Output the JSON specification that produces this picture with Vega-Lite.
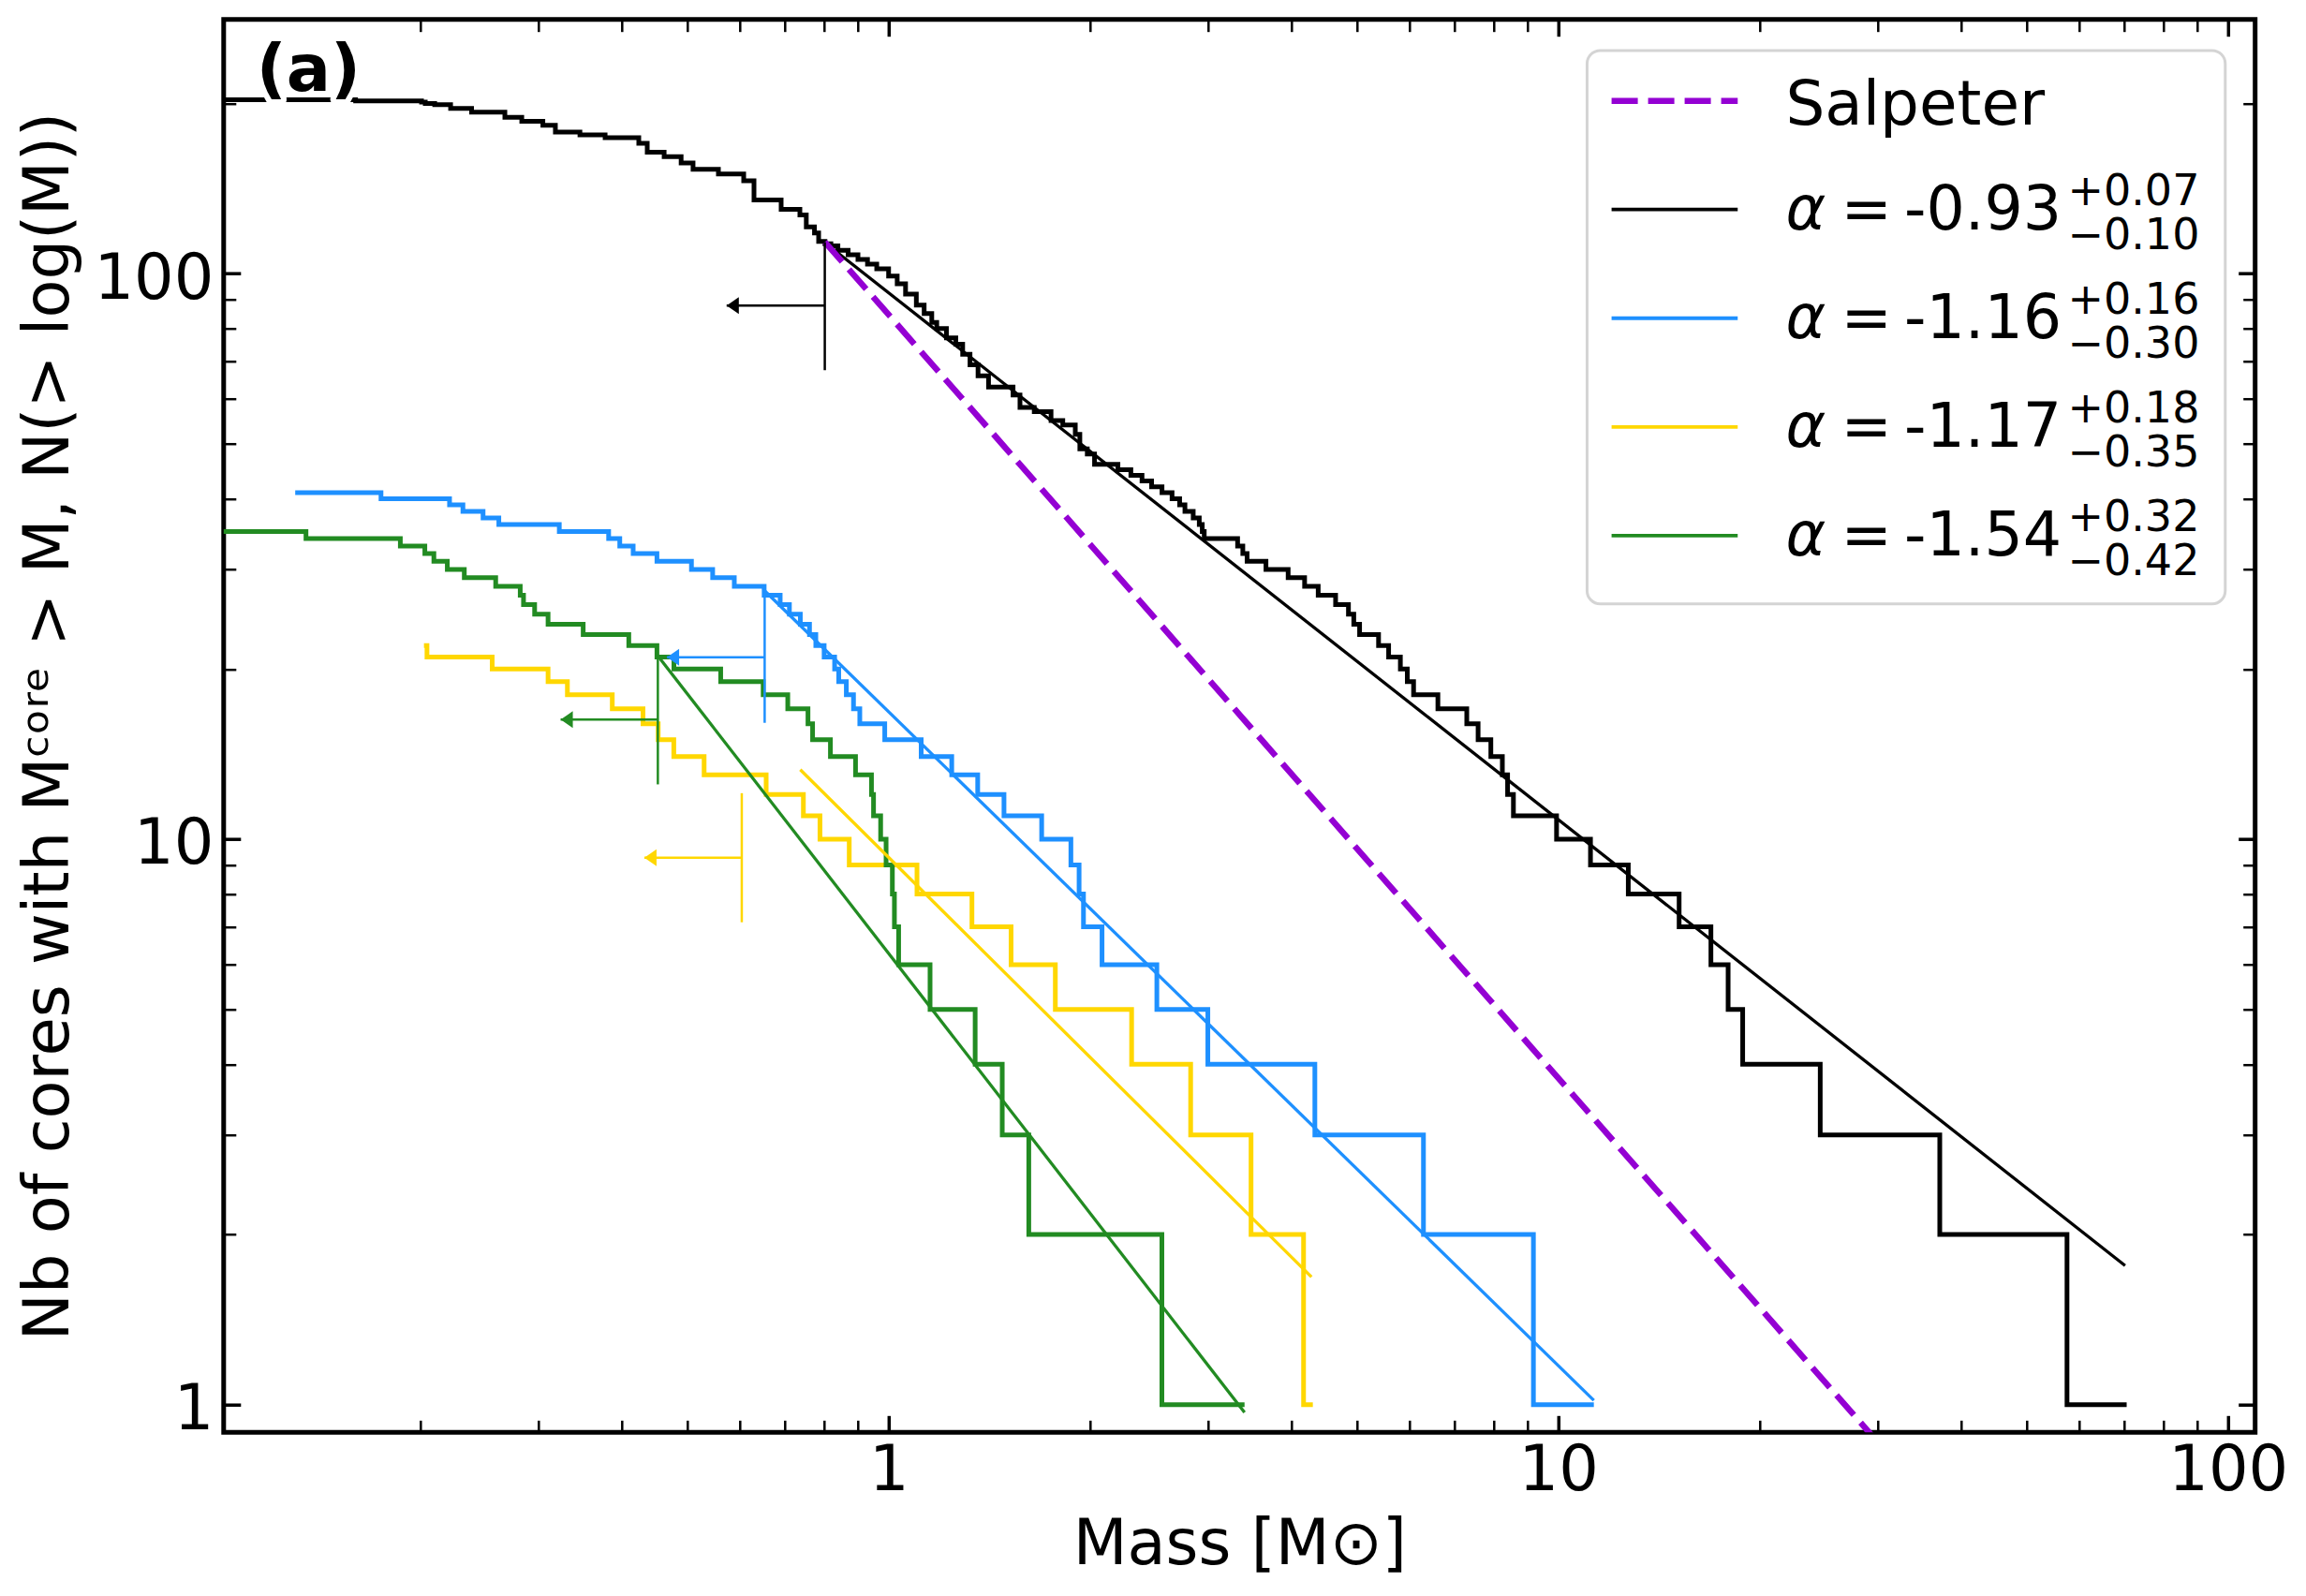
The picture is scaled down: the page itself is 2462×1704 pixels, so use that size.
{
  "$schema": "https://vega.github.io/schema/vega-lite/v6.json",
  "width": 2168.9,
  "height": 1508.6,
  "autosize": {"type": "none"},
  "padding": {"left": 238.8, "top": 20.7, "right": 54.3, "bottom": 174.7},
  "background": "white",
  "config": {
    "font": "DejaVu Sans",
    "view": {"stroke": "black", "strokeWidth": 5, "fill": "white"},
    "axis": {"domain": false, "grid": false, "tickColor": "black", "labelColor": "black", "titleColor": "black", "labelFont": "DejaVu Sans", "titleFont": "DejaVu Sans", "titleFontWeight": "normal", "labelFlush": false, "labelOverlap": false, "labelBound": false, "tickCap": "butt"}
  },
  "datasets": {
    "steps": [
      {"s":"black","m":0.09,"n":203},{"s":"black","m":0.16,"n":202},{"s":"black","m":0.2007,"n":201},{"s":"black","m":0.2033,"n":200},{"s":"black","m":0.21,"n":199},{"s":"black","m":0.2218,"n":196},{"s":"black","m":0.2384,"n":193},{"s":"black","m":0.2673,"n":189},{"s":"black","m":0.2833,"n":186},{"s":"black","m":0.3046,"n":183},{"s":"black","m":0.318,"n":178},{"s":"black","m":0.346,"n":176},{"s":"black","m":0.3773,"n":174},{"s":"black","m":0.4236,"n":170},{"s":"black","m":0.4361,"n":164},{"s":"black","m":0.4622,"n":161},{"s":"black","m":0.49,"n":157},{"s":"black","m":0.5105,"n":153},{"s":"black","m":0.557,"n":150},{"s":"black","m":0.6076,"n":146},{"s":"black","m":0.6295,"n":135},{"s":"black","m":0.6911,"n":130},{"s":"black","m":0.7371,"n":127},{"s":"black","m":0.7535,"n":121},{"s":"black","m":0.775,"n":118},{"s":"black","m":0.7862,"n":114},{"s":"black","m":0.8035,"n":113},{"s":"black","m":0.82,"n":112},{"s":"black","m":0.84,"n":110},{"s":"black","m":0.87,"n":108},{"s":"black","m":0.9,"n":106},{"s":"black","m":0.93,"n":104},{"s":"black","m":0.96,"n":102},{"s":"black","m":1.0,"n":99},{"s":"black","m":1.03,"n":96},{"s":"black","m":1.06,"n":92},{"s":"black","m":1.1,"n":88},{"s":"black","m":1.13,"n":85},{"s":"black","m":1.16,"n":82},{"s":"black","m":1.18,"n":80},{"s":"black","m":1.22,"n":77},{"s":"black","m":1.26,"n":75},{"s":"black","m":1.29,"n":72},{"s":"black","m":1.323,"n":69},{"s":"black","m":1.36,"n":66},{"s":"black","m":1.41,"n":63},{"s":"black","m":1.534,"n":61},{"s":"black","m":1.571,"n":58},{"s":"black","m":1.65,"n":57},{"s":"black","m":1.748,"n":55},{"s":"black","m":1.82,"n":54},{"s":"black","m":1.9,"n":52},{"s":"black","m":1.93,"n":49},{"s":"black","m":1.98,"n":48},{"s":"black","m":2.03,"n":46},{"s":"black","m":2.2,"n":45},{"s":"black","m":2.3,"n":44},{"s":"black","m":2.39,"n":43},{"s":"black","m":2.47,"n":42},{"s":"black","m":2.56,"n":41},{"s":"black","m":2.65,"n":40},{"s":"black","m":2.72,"n":39},{"s":"black","m":2.77,"n":38},{"s":"black","m":2.85,"n":37},{"s":"black","m":2.91,"n":36},{"s":"black","m":2.94,"n":35},{"s":"black","m":2.96,"n":34},{"s":"black","m":3.32,"n":33},{"s":"black","m":3.38,"n":32},{"s":"black","m":3.43,"n":31},{"s":"black","m":3.66,"n":30},{"s":"black","m":3.95,"n":29},{"s":"black","m":4.18,"n":28},{"s":"black","m":4.38,"n":27},{"s":"black","m":4.65,"n":26},{"s":"black","m":4.86,"n":25},{"s":"black","m":4.95,"n":24},{"s":"black","m":5.05,"n":23},{"s":"black","m":5.39,"n":22},{"s":"black","m":5.58,"n":21},{"s":"black","m":5.81,"n":20},{"s":"black","m":5.95,"n":19},{"s":"black","m":6.08,"n":18},{"s":"black","m":6.61,"n":17},{"s":"black","m":7.3,"n":16},{"s":"black","m":7.59,"n":15},{"s":"black","m":7.93,"n":14},{"s":"black","m":8.25,"n":13},{"s":"black","m":8.4,"n":12},{"s":"black","m":8.57,"n":11},{"s":"black","m":9.94,"n":10},{"s":"black","m":11.17,"n":9},{"s":"black","m":12.72,"n":8},{"s":"black","m":15.15,"n":7},{"s":"black","m":16.9,"n":6},{"s":"black","m":17.93,"n":5},{"s":"black","m":18.85,"n":4},{"s":"black","m":24.61,"n":3},{"s":"black","m":37.12,"n":2},{"s":"black","m":57.49,"n":1},{"s":"black","m":70.58,"n":1},
      {"s":"blue","m":0.13,"n":41},{"s":"blue","m":0.1746,"n":40},{"s":"blue","m":0.221,"n":39},{"s":"blue","m":0.2314,"n":38},{"s":"blue","m":0.248,"n":37},{"s":"blue","m":0.2618,"n":36},{"s":"blue","m":0.3223,"n":35},{"s":"blue","m":0.3819,"n":34},{"s":"blue","m":0.3968,"n":33},{"s":"blue","m":0.4155,"n":32},{"s":"blue","m":0.4509,"n":31},{"s":"blue","m":0.5077,"n":30},{"s":"blue","m":0.5461,"n":29},{"s":"blue","m":0.5883,"n":28},{"s":"blue","m":0.6519,"n":27},{"s":"blue","m":0.6888,"n":26},{"s":"blue","m":0.711,"n":25},{"s":"blue","m":0.7382,"n":24},{"s":"blue","m":0.7619,"n":23},{"s":"blue","m":0.7786,"n":22},{"s":"blue","m":0.8012,"n":21},{"s":"blue","m":0.8306,"n":20},{"s":"blue","m":0.8424,"n":19},{"s":"blue","m":0.8647,"n":18},{"s":"blue","m":0.8863,"n":17},{"s":"blue","m":0.9057,"n":16},{"s":"blue","m":0.9868,"n":15},{"s":"blue","m":1.1185,"n":14},{"s":"blue","m":1.2424,"n":13},{"s":"blue","m":1.3584,"n":12},{"s":"blue","m":1.4869,"n":11},{"s":"blue","m":1.6926,"n":10},{"s":"blue","m":1.8715,"n":9},{"s":"blue","m":1.925,"n":8},{"s":"blue","m":1.9543,"n":7},{"s":"blue","m":2.083,"n":6},{"s":"blue","m":2.515,"n":5},{"s":"blue","m":2.997,"n":4},{"s":"blue","m":4.33,"n":3},{"s":"blue","m":6.29,"n":2},{"s":"blue","m":9.18,"n":1},{"s":"blue","m":11.3,"n":1},
      {"s":"gold","m":0.2024,"n":22},{"s":"gold","m":0.2045,"n":21},{"s":"gold","m":0.2559,"n":20},{"s":"gold","m":0.3101,"n":19},{"s":"gold","m":0.3314,"n":18},{"s":"gold","m":0.3867,"n":17},{"s":"gold","m":0.4298,"n":16},{"s":"gold","m":0.4528,"n":15},{"s":"gold","m":0.4778,"n":14},{"s":"gold","m":0.5303,"n":13},{"s":"gold","m":0.6564,"n":12},{"s":"gold","m":0.746,"n":11},{"s":"gold","m":0.7898,"n":10},{"s":"gold","m":0.8734,"n":9},{"s":"gold","m":1.1025,"n":8},{"s":"gold","m":1.3318,"n":7},{"s":"gold","m":1.5236,"n":6},{"s":"gold","m":1.774,"n":5},{"s":"gold","m":2.306,"n":4},{"s":"gold","m":2.825,"n":3},{"s":"gold","m":3.477,"n":2},{"s":"gold","m":4.165,"n":1},{"s":"gold","m":4.3,"n":1},
      {"s":"green","m":0.09,"n":35},{"s":"green","m":0.1349,"n":34},{"s":"green","m":0.1866,"n":33},{"s":"green","m":0.203,"n":32},{"s":"green","m":0.2094,"n":31},{"s":"green","m":0.2193,"n":30},{"s":"green","m":0.2325,"n":29},{"s":"green","m":0.259,"n":28},{"s":"green","m":0.2818,"n":27},{"s":"green","m":0.285,"n":26},{"s":"green","m":0.2961,"n":25},{"s":"green","m":0.3101,"n":24},{"s":"green","m":0.3499,"n":23},{"s":"green","m":0.4093,"n":22},{"s":"green","m":0.4509,"n":21},{"s":"green","m":0.478,"n":20},{"s":"green","m":0.5614,"n":19},{"s":"green","m":0.6497,"n":18},{"s":"green","m":0.707,"n":17},{"s":"green","m":0.7579,"n":16},{"s":"green","m":0.77,"n":15},{"s":"green","m":0.8187,"n":14},{"s":"green","m":0.8925,"n":13},{"s":"green","m":0.9428,"n":12},{"s":"green","m":0.9495,"n":11},{"s":"green","m":0.973,"n":10},{"s":"green","m":0.9914,"n":9},{"s":"green","m":1.013,"n":8},{"s":"green","m":1.0202,"n":7},{"s":"green","m":1.0351,"n":6},{"s":"green","m":1.1532,"n":5},{"s":"green","m":1.3466,"n":4},{"s":"green","m":1.478,"n":3},{"s":"green","m":1.6193,"n":2},{"s":"green","m":2.559,"n":1},{"s":"green","m":3.4,"n":1}
    ],
    "fits": [
      {"s":"black","m":0.803,"n":113.5},{"s":"black","m":70.2,"n":1.762},
      {"s":"blue","m":0.653,"n":27.5},{"s":"blue","m":11.3,"n":1.018},
      {"s":"gold","m":0.738,"n":13.27},{"s":"gold","m":4.28,"n":1.682},
      {"s":"green","m":0.4523,"n":21.1},{"s":"green","m":3.4,"n":0.969},
      {"s":"salpeter","m":0.803,"n":113.8},{"s":"salpeter","m":30,"n":0.858}
    ],
    "limits": [
      {"s":"black","m":0.803,"top":113.7,"bot":67.5,"ya":87.8,"tip":0.573},
      {"s":"blue","m":0.653,"top":27.05,"bot":16.06,"ya":20.97,"tip":0.4667},
      {"s":"gold","m":0.6036,"top":12.06,"bot":7.13,"ya":9.27,"tip":0.4318},
      {"s":"green","m":0.4523,"top":21.1,"bot":12.5,"ya":16.27,"tip":0.3238}
    ],
    "legend": [
      {"s":"salpeter","lead":"Salpeter","main":"","sup":"","sub":""},
      {"s":"black","lead":"α","main":"=\u2009-0.93","sup":"+0.07","sub":"−0.10"},
      {"s":"blue","lead":"α","main":"=\u2009-1.16","sup":"+0.16","sub":"−0.30"},
      {"s":"gold","lead":"α","main":"=\u2009-1.17","sup":"+0.18","sub":"−0.35"},
      {"s":"green","lead":"α","main":"=\u2009-1.54","sup":"+0.32","sub":"−0.42"}
    ]
  },
  "layer": [
    {
      "layer": [
        {
          "data": {"values": [{"k": 1}]},
          "mark": {"type": "rect", "fill": "white", "fillOpacity": 0.8, "stroke": "#d4d4d4", "strokeWidth": 3, "cornerRadius": 14},
          "encoding": {
            "x": {"datum": 11.04, "scale": {"type": "log", "domain": [0.10165, 109.78], "nice": false}, "axis": null},
            "x2": {"datum": 99.06},
            "y": {"datum": 248.1, "scale": {"type": "log", "domain": [0.8934, 281.6], "nice": false}, "axis": null},
            "y2": {"datum": 26.07}
          }
        },
        {
          "data": {"name": "steps"},
          "mark": {"type": "line", "interpolate": "step-after", "strokeWidth": 5, "clip": true},
          "encoding": {
            "x": {"field": "m", "type": "quantitative", "scale": {"type": "log", "domain": [0.10165, 109.78], "nice": false},
                  "axis": {"orient": "bottom", "values": [1, 10, 100], "format": "d", "ticks": false, "labelFontSize": 67, "labelPadding": 8.5, "title": "Mass [M⊙]", "titleFontSize": 67, "titleBaseline": "alphabetic", "titleX": 1084.5, "titleY": 140.7}},
            "y": {"field": "n", "type": "quantitative", "scale": {"type": "log", "domain": [0.8934, 281.6], "nice": false},
                  "axis": {"orient": "left", "values": [1, 10, 100], "format": "d", "ticks": false, "labelFontSize": 67, "labelPadding": 11, "labelOffset": 6, "title": "Nb of cores with Mᶜᵒʳᵉ > M, N(> log(M))", "titleFontSize": 67, "titleAngle": 270, "titleAlign": "center", "titleBaseline": "alphabetic", "titleX": -166, "titleY": 754.3}},
            "color": {"field": "s", "type": "nominal", "scale": {"domain": ["black", "blue", "gold", "green", "salpeter"], "range": ["#000000", "#1E90FF", "#FFD700", "#228B22", "#9400D3"]}, "legend": null}
          }
        },
        {
          "data": {"name": "fits"},
          "transform": [{"filter": "datum.s !== 'salpeter'"}],
          "mark": {"type": "line", "strokeWidth": 3.3, "clip": true},
          "encoding": {
            "x": {"field": "m", "type": "quantitative", "scale": {"type": "log", "domain": [0.10165, 109.78], "nice": false},
                  "axis": {"orient": "bottom", "values": [1, 10, 100], "labels": false, "tickSize": -18, "tickWidth": 3.5, "title": null}},
            "y": {"field": "n", "type": "quantitative", "scale": {"type": "log", "domain": [0.8934, 281.6], "nice": false},
                  "axis": {"orient": "left", "values": [1, 10, 100], "labels": false, "tickSize": -18, "tickWidth": 3.5, "title": null}},
            "color": {"field": "s", "type": "nominal", "legend": null}
          }
        },
        {
          "data": {"name": "fits"},
          "transform": [{"filter": "datum.s === 'salpeter'"}],
          "mark": {"type": "line", "strokeWidth": 6.5, "strokeDash": [28, 11], "clip": true},
          "encoding": {
            "x": {"field": "m", "type": "quantitative", "scale": {"type": "log", "domain": [0.10165, 109.78], "nice": false},
                  "axis": {"orient": "bottom", "values": [0.2,0.3,0.4,0.5,0.6,0.7,0.8,0.9,2,3,4,5,6,7,8,9,20,30,40,50,60,70,80,90], "labels": false, "tickSize": -13, "tickWidth": 2.5, "title": null}},
            "y": {"field": "n", "type": "quantitative", "scale": {"type": "log", "domain": [0.8934, 281.6], "nice": false},
                  "axis": {"orient": "left", "values": [2,3,4,5,6,7,8,9,20,30,40,50,60,70,80,90,200], "labels": false, "tickSize": -13, "tickWidth": 2.5, "title": null}},
            "color": {"field": "s", "type": "nominal", "legend": null}
          }
        },
        {
          "data": {"name": "limits"},
          "mark": {"type": "rule", "strokeWidth": 2.5},
          "encoding": {
            "x": {"field": "m", "type": "quantitative", "scale": {"type": "log", "domain": [0.10165, 109.78], "nice": false},
                  "axis": {"orient": "top", "values": [1, 10, 100], "labels": false, "tickSize": -18, "tickWidth": 3.5, "title": null}},
            "y": {"field": "top", "type": "quantitative", "scale": {"type": "log", "domain": [0.8934, 281.6], "nice": false},
                  "axis": {"orient": "right", "values": [1, 10, 100], "labels": false, "tickSize": -18, "tickWidth": 3.5, "title": null}},
            "y2": {"field": "bot"},
            "color": {"field": "s", "type": "nominal", "legend": null}
          }
        },
        {
          "data": {"name": "limits"},
          "mark": {"type": "rule", "strokeWidth": 2.5},
          "encoding": {
            "x": {"field": "m", "type": "quantitative", "scale": {"type": "log", "domain": [0.10165, 109.78], "nice": false},
                  "axis": {"orient": "top", "values": [0.2,0.3,0.4,0.5,0.6,0.7,0.8,0.9,2,3,4,5,6,7,8,9,20,30,40,50,60,70,80,90], "labels": false, "tickSize": -13, "tickWidth": 2.5, "title": null}},
            "x2": {"field": "tip"},
            "y": {"field": "ya", "type": "quantitative", "scale": {"type": "log", "domain": [0.8934, 281.6], "nice": false},
                  "axis": {"orient": "right", "values": [2,3,4,5,6,7,8,9,20,30,40,50,60,70,80,90,200], "labels": false, "tickSize": -13, "tickWidth": 2.5, "title": null}},
            "color": {"field": "s", "type": "nominal", "legend": null}
          }
        },
        {
          "data": {"name": "limits"},
          "mark": {"type": "point", "shape": "M0,0L2,-1.385L2,1.385Z", "size": 169, "filled": true, "opacity": 1, "strokeWidth": 0},
          "encoding": {
            "x": {"field": "tip", "type": "quantitative", "scale": {"type": "log", "domain": [0.10165, 109.78], "nice": false}, "axis": null},
            "y": {"field": "ya", "type": "quantitative", "scale": {"type": "log", "domain": [0.8934, 281.6], "nice": false}, "axis": null},
            "color": {"field": "s", "type": "nominal", "legend": null}
          }
        },
        {
          "data": {"values": [{"k": 1}]},
          "mark": {"type": "text", "text": "(a)", "fontWeight": "bold", "fontSize": 70, "align": "left", "baseline": "alphabetic", "fill": "white", "stroke": "white", "strokeWidth": 12, "strokeJoin": "round"},
          "encoding": {
            "x": {"datum": 0.1138, "scale": {"type": "log", "domain": [0.10165, 109.78], "nice": false}, "axis": null},
            "y": {"datum": 210.4, "scale": {"type": "log", "domain": [0.8934, 281.6], "nice": false}, "axis": null}
          }
        },
        {
          "data": {"values": [{"k": 1}]},
          "mark": {"type": "text", "text": "(a)", "fontWeight": "bold", "fontSize": 70, "align": "left", "baseline": "alphabetic", "fill": "black"},
          "encoding": {
            "x": {"datum": 0.1138, "scale": {"type": "log", "domain": [0.10165, 109.78], "nice": false}, "axis": null},
            "y": {"datum": 210.4, "scale": {"type": "log", "domain": [0.8934, 281.6], "nice": false}, "axis": null}
          }
        }
      ],
      "resolve": {"axis": {"x": "independent", "y": "independent"}}
    },
    {
      "data": {"name": "legend"},
      "layer": [
        {
          "transform": [{"filter": "datum.s === 'salpeter'"}],
          "mark": {"type": "rule", "strokeWidth": 6.5, "strokeDash": [28, 11]},
          "encoding": {
            "x": {"datum": 12.01, "scale": {"type": "log", "domain": [0.10165, 109.78], "nice": false}, "axis": null},
            "x2": {"datum": 18.53},
            "y": {"field": "s", "type": "nominal", "scale": {"type": "point", "domain": ["salpeter", "black", "blue", "gold", "green"], "range": [87, 551.1], "padding": 0}, "axis": null},
            "color": {"field": "s", "type": "nominal", "legend": null}
          }
        },
        {
          "transform": [{"filter": "datum.s !== 'salpeter'"}],
          "mark": {"type": "rule", "strokeWidth": 3.8},
          "encoding": {
            "x": {"datum": 12.01, "scale": {"type": "log", "domain": [0.10165, 109.78], "nice": false}, "axis": null},
            "x2": {"datum": 18.53},
            "y": {"field": "s", "type": "nominal", "axis": null},
            "color": {"field": "s", "type": "nominal", "legend": null}
          }
        },
        {
          "transform": [{"filter": "datum.s === 'salpeter'"}],
          "mark": {"type": "text", "align": "left", "baseline": "alphabetic", "dy": 25, "fontSize": 66, "fill": "black"},
          "encoding": {
            "x": {"datum": 21.85, "scale": {"type": "log", "domain": [0.10165, 109.78], "nice": false}, "axis": null},
            "y": {"field": "s", "type": "nominal", "axis": null},
            "text": {"field": "lead"}
          }
        },
        {
          "transform": [{"filter": "datum.s !== 'salpeter'"}],
          "mark": {"type": "text", "align": "left", "baseline": "alphabetic", "dy": 21, "fontSize": 65, "fontStyle": "italic", "fill": "black"},
          "encoding": {
            "x": {"datum": 21.85, "scale": {"type": "log", "domain": [0.10165, 109.78], "nice": false}, "axis": null},
            "y": {"field": "s", "type": "nominal", "axis": null},
            "text": {"field": "lead"}
          }
        },
        {
          "transform": [{"filter": "datum.s !== 'salpeter'"}],
          "mark": {"type": "text", "align": "left", "baseline": "alphabetic", "dy": 21, "fontSize": 65, "fill": "black"},
          "encoding": {
            "x": {"datum": 26.43, "scale": {"type": "log", "domain": [0.10165, 109.78], "nice": false}, "axis": null},
            "y": {"field": "s", "type": "nominal", "axis": null},
            "text": {"field": "main"}
          }
        },
        {
          "transform": [{"filter": "datum.s !== 'salpeter'"}],
          "mark": {"type": "text", "align": "left", "baseline": "alphabetic", "dy": -5, "fontSize": 46, "fill": "black"},
          "encoding": {
            "x": {"datum": 57.6, "scale": {"type": "log", "domain": [0.10165, 109.78], "nice": false}, "axis": null},
            "y": {"field": "s", "type": "nominal", "axis": null},
            "text": {"field": "sup"}
          }
        },
        {
          "transform": [{"filter": "datum.s !== 'salpeter'"}],
          "mark": {"type": "text", "align": "left", "baseline": "alphabetic", "dy": 42, "fontSize": 46, "fill": "black"},
          "encoding": {
            "x": {"datum": 57.6, "scale": {"type": "log", "domain": [0.10165, 109.78], "nice": false}, "axis": null},
            "y": {"field": "s", "type": "nominal", "axis": null},
            "text": {"field": "sub"}
          }
        }
      ]
    }
  ],
  "resolve": {"scale": {"y": "independent"}}
}
